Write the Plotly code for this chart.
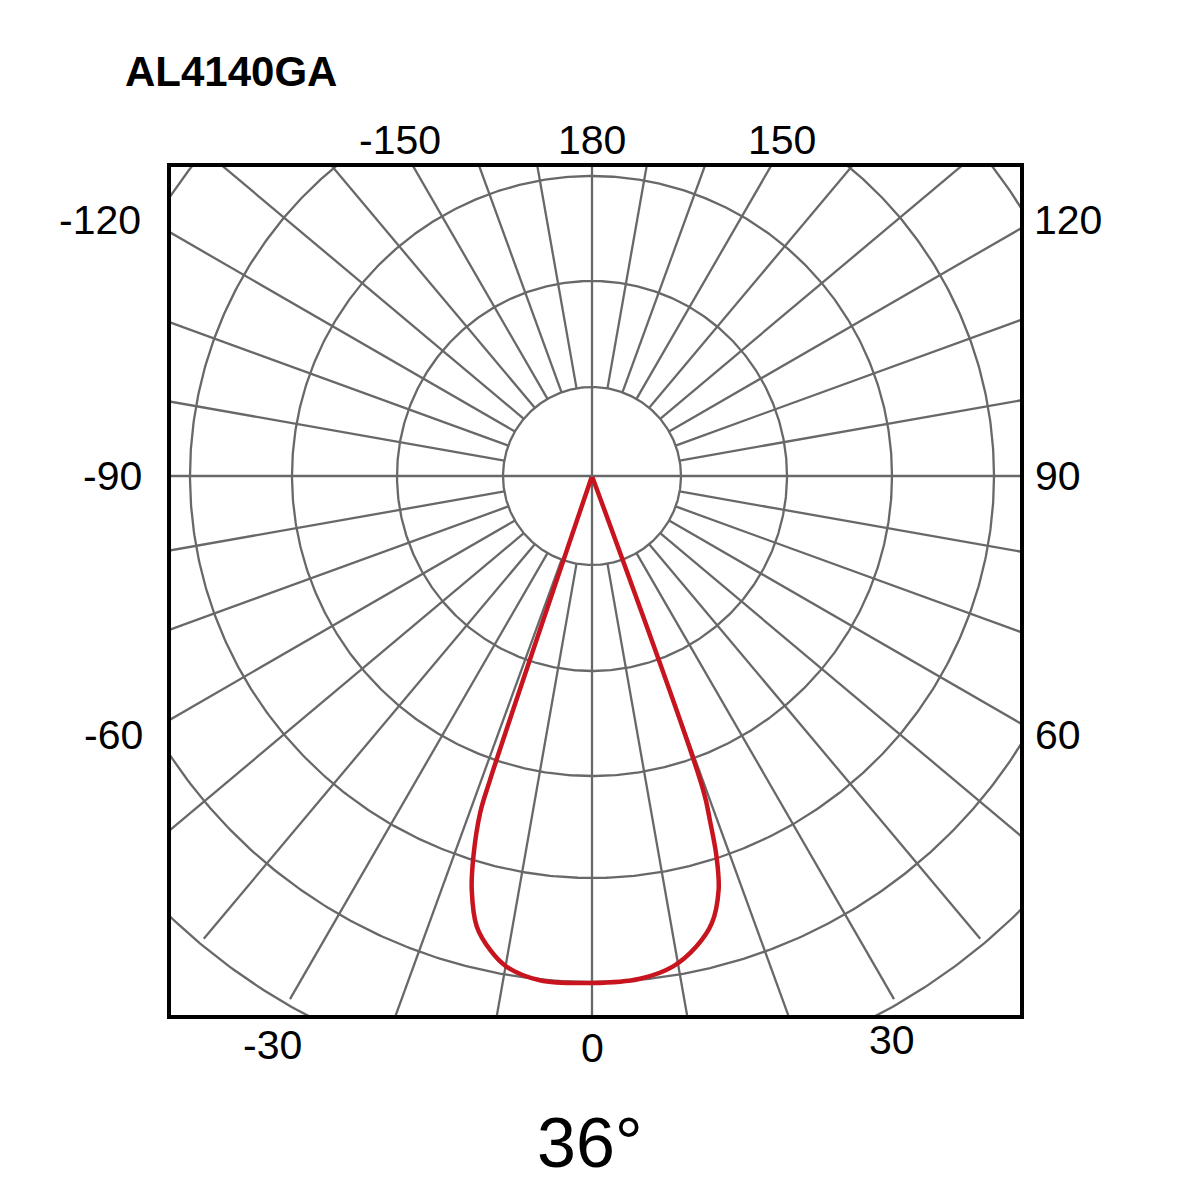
import numpy as np
import plotly.graph_objects as go

# ---------------- data ----------------
TITLE = "AL4140GA"
BEAM_LABEL = "36°"

# photometric curve: angle from nadir (deg, + to the right) and intensity (grid units)
curve_angles = [-19.0, -18.55, -18.37, -17.3, -16.2, -14.35, -12.1, -9.9, -5.9, 0.0,
                5.46, 9.4, 12.5, 15.0, 17.0, 18.1, 18.9, 19.5, 20.0]
curve_values = [1, 321, 355, 399, 431, 465, 485, 498, 507, 507,
                505, 497, 482, 463, 433, 401, 364, 333, 1]

# polar grid
ring_radii = [89, 195, 300, 402, 506, 610]
spoke_angles = list(range(0, 360, 10))
spoke_inner = 89
spoke_outer = 604

# angle labels around the frame
tick_labels = ["-150", "180", "150", "-120", "120", "-90", "90", "-60", "60", "-30", "0", "30"]

# ---------------- layout geometry (screen pixels) ----------------
W, H = 1200, 1200
PAGE_OFFSET = 8  # default body margin of the html page
BOX_L, BOX_R, BOX_T, BOX_B = 169, 1022, 165, 1017
INSET = 2        # axis frame lines are drawn just outside the plot area
CX, CY = 592, 476
tick_pos = [(400, 140), (592, 140), (782, 140), (100, 220), (1068, 220),
            (112, 476), (1058, 476), (113, 735), (1058, 735), (272, 1045),
            (592, 1048), (892, 1040)]

PL, PR, PT, PB = BOX_L + INSET, BOX_R - INSET, BOX_T + INSET, BOX_B - INSET

def px_to_paper(px, py):
    return (px - PL) / (PR - PL), (PB - py) / (PB - PT)

GRID = "#686868"
FONT = "Liberation Sans, Arial, Helvetica, sans-serif"

fig = go.Figure()

# rings
t = np.linspace(0, 2 * np.pi, 721)
rx, ry = [], []
for R in ring_radii:
    rx += list(R * np.cos(t)) + [None]
    ry += list(R * np.sin(t)) + [None]
fig.add_trace(go.Scatter(x=rx, y=ry, mode="lines", line=dict(color=GRID, width=2.3),
                         hoverinfo="skip"))

# spokes
sx, sy = [], []
for a in spoke_angles:
    th = np.deg2rad(a)
    r0 = 0 if a % 90 == 0 else spoke_inner
    sx += [r0 * np.sin(th), spoke_outer * np.sin(th), None]
    sy += [-r0 * np.cos(th), -spoke_outer * np.cos(th), None]
fig.add_trace(go.Scatter(x=sx, y=sy, mode="lines", line=dict(color=GRID, width=2.3),
                         hoverinfo="skip"))

# intensity curve
th = np.deg2rad(np.array(curve_angles))
rv = np.array(curve_values, dtype=float)
fig.add_trace(go.Scatter(x=rv * np.sin(th), y=-rv * np.cos(th), mode="lines",
                         line=dict(color="#c8141e", width=4.5, shape="spline",
                                   smoothing=1.0, simplify=False),
                         hoverinfo="skip"))

annotations = []
for lab, (px, py) in zip(tick_labels, tick_pos):
    xp, yp = px_to_paper(px, py)
    annotations.append(dict(text=lab, x=xp, y=yp, xref="paper", yref="paper",
                            xanchor="center", yanchor="middle", showarrow=False,
                            font=dict(family=FONT, size=41, color="black")))
xp, yp = px_to_paper(123, 72)
annotations.append(dict(text="<b>" + TITLE + "</b>", x=xp, y=yp, xref="paper", yref="paper",
                        xanchor="left", yanchor="middle", showarrow=False,
                        font=dict(family=FONT, size=42, color="black")))
xp, yp = px_to_paper(590, 1143)
annotations.append(dict(text=BEAM_LABEL, x=xp, y=yp, xref="paper", yref="paper",
                        xanchor="center", yanchor="middle", showarrow=False,
                        font=dict(family=FONT, size=70, color="black")))

axis_common = dict(showgrid=False, zeroline=False, showticklabels=False, ticks="",
                   showline=True, linewidth=4, linecolor="black", mirror=True,
                   fixedrange=True)
fig.update_layout(
    width=W, height=H,
    margin=dict(l=PL - PAGE_OFFSET, r=W - PR + PAGE_OFFSET,
                t=PT - PAGE_OFFSET, b=H - PB + PAGE_OFFSET),
    paper_bgcolor="white", plot_bgcolor="white",
    showlegend=False,
    xaxis=dict(range=[PL - CX, PR - CX], **axis_common),
    yaxis=dict(range=[CY - PB, CY - PT], **axis_common),
    annotations=annotations,
)

fig.write_html("out.html")
